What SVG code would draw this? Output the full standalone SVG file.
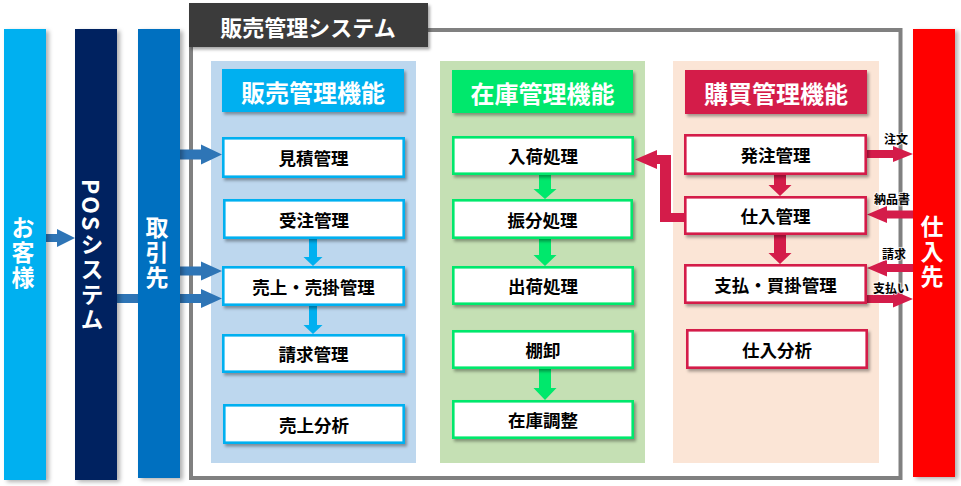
<svg xmlns="http://www.w3.org/2000/svg" width="961" height="486" viewBox="0 0 961 486">
<style>
text{font-family:"Noto Sans CJK JP","Noto Sans",sans-serif;font-weight:bold}
.bt{font-size:17.5px;fill:#000;text-anchor:middle;dominant-baseline:central}
.ht{font-size:24px;fill:#fff;text-anchor:middle;dominant-baseline:central}
.vt{font-size:23px;fill:#fff;writing-mode:vertical-rl;text-anchor:start;letter-spacing:2px}
.lb{font-size:12px;fill:#000;text-anchor:middle;dominant-baseline:central;paint-order:stroke;stroke:#fff;stroke-width:2px;stroke-opacity:.7}
.bx{fill:#fff;stroke-width:2.6;filter:url(#sh)}
.sb{stroke:#00b0f0}.gb{stroke:#00e86c}.rb{stroke:#d41c4a}
.ab{fill:#2e75b6}.ac{fill:#00b0f0}.ag{fill:#00e86c}.ar{fill:#d41c4a}
</style>
<defs>
<filter id="sh" x="-10%" y="-20%" width="125%" height="150%"><feDropShadow dx="2" dy="2.5" stdDeviation="1.5" flood-color="#000" flood-opacity="0.35"/></filter>
<filter id="shb" x="-20%" y="-5%" width="150%" height="110%"><feDropShadow dx="3" dy="2" stdDeviation="2" flood-color="#000" flood-opacity="0.3"/></filter>
</defs>
<rect width="961" height="486" fill="#fff"/>

<g id="system">
<rect x="191" y="30" width="709.5" height="448" fill="#fff" stroke="#808080" stroke-width="4"/>
<rect x="189" y="3" width="239" height="44" fill="#3a3a3a" filter="url(#sh)"/>
<text class="ht" x="308" y="26" style="font-size:22px">販売管理システム</text>
</g>

<g id="sales-panel">
<rect x="211" y="61" width="205" height="402" fill="#bdd7ee"/>
<rect x="222" y="69" width="182" height="43" fill="#00b0f0" filter="url(#sh)"/>
<text class="ht" x="313" y="91">販売管理機能</text>
</g>
<g id="stock-panel">
<rect x="440" y="61" width="205" height="402" fill="#c5e0b4"/>
<rect x="452" y="70" width="181" height="43" fill="#00e86c" filter="url(#sh)"/>
<text class="ht" x="542.5" y="92">在庫管理機能</text>
</g>
<g id="purchase-panel">
<rect x="673" y="61" width="206" height="402" fill="#fbe5d6"/>
<rect x="685" y="70" width="182" height="44" fill="#d41c4a" filter="url(#sh)"/>
<text class="ht" x="776" y="92">購買管理機能</text>
</g>

<g id="connectors">
<polygon class="ab" points="46,234 57,234 57,229 75,238 57,247 57,242 46,242"/>
<polygon class="ab" points="180,149.5 201,149.5 201,144.5 222,154.5 201,164.5 201,159.5 180,159.5"/>
<polygon class="ab" points="180,266.5 201,266.5 201,261.5 222,271 201,280.5 201,275.5 180,275.5"/>
<polygon class="ab" points="117,294 201,294 201,289 222,298.5 201,308 201,303 117,303"/>
<polygon class="ac" points="309,239 317,239 317,257 322.5,257 313,266 303.5,257 309,257"/>
<polygon class="ac" points="309,306 317,306 317,325 322.5,325 313,334 303.5,325 309,325"/>
<polygon class="ag" points="539,175 551,175 551,189 556.5,189 545,199 533.5,189 539,189"/>
<polygon class="ag" points="539,239 551,239 551,255 556.5,255 545,266 533.5,255 539,255"/>
<polygon class="ag" points="539,369 551,369 551,388 556.5,388 545,400 533.5,388 539,388"/>
<polygon class="ar" points="774,175 786,175 786,185 791.5,185 780,196 768.5,185 774,185"/>
<polygon class="ar" points="774,235 786,235 786,253 791.5,253 780,264 768.5,253 774,253"/>
<polygon class="ar" points="684,213 671,213 671,155 657,155 657,150 635,159.5 657,169 657,164 660,164 660,222 684,222"/>
<polygon class="ar" points="867,150 893,150 893,146 913,154 893,162 893,158 867,158"/>
<polygon class="ar" points="913,210.5 887,210.5 887,206 867,214.5 887,223 887,218.5 913,218.5"/>
<polygon class="ar" points="913,264 887,264 887,259.5 867,268 887,276.5 887,272 913,272"/>
<polygon class="ar" points="867,295 893,295 893,290.5 913,299 893,307.5 893,303 867,303"/>
<text class="lb" x="896" y="138">注文</text>
<text class="lb" x="892" y="198">納品書</text>
<text class="lb" x="894" y="253">請求</text>
<text class="lb" x="891" y="287">支払い</text>
</g>

<g id="customer"><rect x="4" y="29" width="42" height="451" fill="#00b0f0" filter="url(#shb)"/><text class="vt" x="23" y="216">お客様</text></g>
<g id="pos"><rect x="75" y="29" width="42" height="451" fill="#002060" filter="url(#shb)"/><text class="vt" x="92" y="179">POSシステム</text></g>
<g id="client"><rect x="138" y="29" width="42" height="449" fill="#0070c0" filter="url(#shb)"/><text class="vt" x="157" y="216">取引先</text></g>
<g id="supplier"><rect x="913" y="29" width="42" height="448" fill="#ff0000" filter="url(#shb)"/><text class="vt" x="932" y="215">仕入先</text></g>

<g id="mitsumori"><rect class="bx sb" x="223.3" y="138.3" width="180.4" height="38.4"/><text class="bt" x="313.5" y="157.5">見積管理</text></g>
<g id="juchu"><rect class="bx sb" x="224.3" y="200.3" width="179.4" height="37.4"/><text class="bt" x="314" y="219">受注管理</text></g>
<g id="uriage"><rect class="bx sb" x="223.3" y="267.3" width="180.4" height="37.4"/><text class="bt" x="313.5" y="286">売上・売掛管理</text></g>
<g id="seikyu"><rect class="bx sb" x="223.3" y="335.3" width="180.4" height="36.4"/><text class="bt" x="313.5" y="353.5">請求管理</text></g>
<g id="uriage-bunseki"><rect class="bx sb" x="224.3" y="405.3" width="179.4" height="37.4"/><text class="bt" x="314" y="424">売上分析</text></g>

<g id="nyuka"><rect class="bx gb" x="453.3" y="137.3" width="179.4" height="36.4"/><text class="bt" x="543" y="155.5">入荷処理</text></g>
<g id="furiwake"><rect class="bx gb" x="453.3" y="200.3" width="178.4" height="37.4"/><text class="bt" x="542.5" y="219">振分処理</text></g>
<g id="shukka"><rect class="bx gb" x="453.3" y="267.3" width="179.4" height="36.4"/><text class="bt" x="543" y="285.5">出荷処理</text></g>
<g id="tanaoroshi"><rect class="bx gb" x="453.3" y="331.3" width="179.4" height="36.4"/><text class="bt" x="543" y="349.5">棚卸</text></g>
<g id="zaiko-chosei"><rect class="bx gb" x="453.3" y="401.3" width="179.4" height="36.4"/><text class="bt" x="543" y="419.5">在庫調整</text></g>

<g id="hatchu"><rect class="bx rb" x="685.3" y="135.3" width="180.4" height="38.4"/><text class="bt" x="775.5" y="154.5">発注管理</text></g>
<g id="shiire"><rect class="bx rb" x="685.3" y="197.3" width="180.4" height="36.4"/><text class="bt" x="775.5" y="215.5">仕入管理</text></g>
<g id="shiharai"><rect class="bx rb" x="685.3" y="265.3" width="180.4" height="37.4"/><text class="bt" x="775.5" y="284">支払・買掛管理</text></g>
<g id="shiire-bunseki"><rect class="bx rb" x="687.3" y="330.3" width="179.4" height="37.4"/><text class="bt" x="777" y="349">仕入分析</text></g>
</svg>
